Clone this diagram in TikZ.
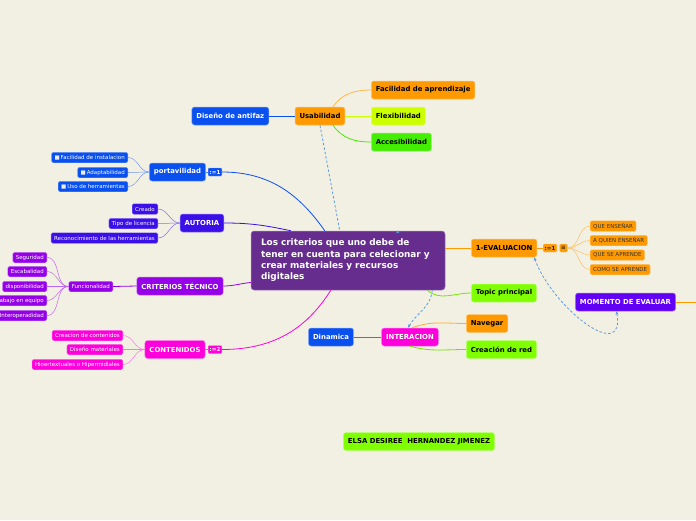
\documentclass[tikz,border=0pt]{standalone}
\usepackage{fontspec}
\setmainfont{DejaVu Sans}
\usetikzlibrary{calc,arrows.meta}
\definecolor{bg}{HTML}{F2EFE3}
\definecolor{cOr}{HTML}{FF9900}
\definecolor{cBl}{HTML}{0A50EE}
\definecolor{cAu}{HTML}{3A0FE8}
\definecolor{cCr}{HTML}{9600E8}
\definecolor{cMa}{HTML}{FF00DC}
\definecolor{cMo}{HTML}{6200F5}
\definecolor{cCe}{HTML}{662D8F}
\definecolor{cAc}{HTML}{44EE00}
\definecolor{cTo}{HTML}{80FF00}
\definecolor{cFl}{HTML}{CCFF00}
\definecolor{cDash}{HTML}{5A9BE0}
\tikzset{
  mbox/.style={rounded corners=2.5pt, fill=#1, draw=#1!55!white, line width=0.5pt,
    inner xsep=4.5pt, inner ysep=0pt, minimum height=18pt,
    font=\bfseries\fontsize{6.9}{8}\selectfont},
  cbox/.style={rounded corners=1.5pt, fill=#1, draw=#1!55!white, line width=0.4pt,
    inner xsep=3pt, inner ysep=0pt, minimum height=10.5pt,
    font=\fontsize{5.5}{6.5}\selectfont},
  badge/.style={rounded corners=1pt, fill=#1, draw=#1!55!white, line width=0.4pt,
    inner xsep=1.5pt, inner ysep=0pt, minimum height=8pt,
    font=\bfseries\fontsize{5.5}{6}\selectfont, text=white},
  wt/.style={text=white},
  bk/.style={text=black},
  link/.style={line width=0.8pt},
  sub/.style={line width=0.5pt},
  dlink/.style={draw=cDash, line width=0.8pt, dash pattern=on 2.5pt off 2pt},
}
\newcommand{\chk}{\textcolor{white!85!gray}{■}\,}
\begin{document}
\begin{tikzpicture}[x=1pt,y=1pt]
\useasboundingbox (0,0) rectangle (696,-520);
\clip (0,0) rectangle (696,-520);
\fill[bg] (0,0) rectangle (696,-520);

% central
\node[rounded corners=3pt, fill=cCe, draw=cCe!60!white, line width=0.5pt,
  minimum width=194pt, minimum height=59pt, text width=174pt, align=left,
  inner xsep=0pt, inner ysep=0pt, text=white,
  font=\bfseries\fontsize{8.9}{11.3}\selectfont] (c) at (348,-260.5)
  {\rule{0pt}{3pt}Los criterios que uno debe de\\tener en cuenta para celecionar y\\crear materiales y recursos\\digitales};

% top branch
\node[mbox=cBl, wt, anchor=east] (dis) at (269,-116) {Diseño de antifaz};
\node[mbox=cOr, bk] (us) at (320,-116) {Usabilidad};
\node[mbox=cOr, bk, anchor=west] (fa) at (371,-90) {Facilidad de aprendizaje};
\node[mbox=cFl, bk, anchor=west] (fl) at (371,-116) {Flexibilidad};
\node[mbox=cAc, bk, anchor=west] (ac) at (371,-142) {Accesibilidad};

% portavilidad
\node[mbox=cBl, wt] (pv) at (177.5,-172) {portavilidad};
\node[badge=cBl, anchor=west] (pvb) at (208,-172) {:=1};
\node[cbox=cBl, wt, anchor=east] (pv1) at (128,-157.5) {\chk Facilidad de instalacion};
\node[cbox=cBl, wt, anchor=east] (pv2) at (128,-172.5) {\chk Adaptabilidad};
\node[cbox=cBl, wt, anchor=east] (pv3) at (128,-186.5) {\chk Uso de herramientas};

% autoria
\node[mbox=cAu, wt] (au) at (202,-223) {AUTORIA};
\node[cbox=cAu, wt, anchor=east] (au1) at (158,-209) {Creado};
\node[cbox=cAu, wt, anchor=east] (au2) at (158,-223.5) {Tipo de licencia};
\node[cbox=cAu, wt, anchor=east] (au3) at (158,-238) {Reconocimiento de las herramientas};

% criterios
\node[mbox=cCr, wt] (cr) at (180,-286) {CRITERIOS TÉCNICO};
\node[cbox=cCr, wt, anchor=east] (fu) at (113,-286.5) {Funcionalidad};
\node[cbox=cCr, wt, anchor=east] (f1) at (47,-257.5) {Seguridad};
\node[cbox=cCr, wt, anchor=east] (f2) at (47,-271.5) {Escabalidad};
\node[cbox=cCr, wt, anchor=east] (f3) at (47,-286.5) {disponibilidad};
\node[cbox=cCr, wt, anchor=east] (f4) at (47,-300.5) {Trabajo en equipo};
\node[cbox=cCr, wt, anchor=east] (f5) at (47,-315.5) {Interoperadidad};

% contenidos
\node[mbox=cMa, wt] (co) at (175,-349.5) {CONTENIDOS};
\node[badge=cMa, anchor=west] (cob) at (208,-349.5) {:=2};
\node[cbox=cMa, wt, anchor=east] (co1) at (123,-335.5) {Creacion de contenidos};
\node[cbox=cMa, wt, anchor=east] (co2) at (123,-349.5) {Diseño materiales};
\node[cbox=cMa, wt, anchor=east] (co3) at (123,-364.5) {Hioertextuales o Hipermidiales};

% evaluacion
\node[mbox=cOr, bk, anchor=west] (ev) at (471,-248) {1-EVALUACION};
\node[badge=cOr, text=black!85, anchor=west] (evb1) at (543,-248) {:=1};
\node[badge=cOr, text=black!85, anchor=west] (evb2) at (559.5,-248) {≡};
\node[cbox=cOr, text=black!80, anchor=west] (e1) at (590,-226) {QUE ENSEÑAR};
\node[cbox=cOr, text=black!80, anchor=west] (e2) at (590,-240.5) {A QUIEN ENSEÑAR};
\node[cbox=cOr, text=black!80, anchor=west] (e3) at (590,-255) {QUE SE APRENDE};
\node[cbox=cOr, text=black!80, anchor=west] (e4) at (590,-269.5) {COMO SE APRENDE};
\node[mbox=cTo, bk, anchor=west] (tp) at (471,-293) {Topic principal};
\node[mbox=cMo, wt] (mo) at (625.5,-302) {MOMENTO DE EVALUAR};
\coordinate (moR) at (700,-302);

% interacion
\node[mbox=cBl, wt] (di) at (331,-337) {Dinamica};
\node[mbox=cMa, wt] (in) at (410,-337) {INTERACION};
\node[mbox=cOr, bk, anchor=west] (na) at (466,-323.5) {Navegar};
\node[mbox=cTo, bk, anchor=west] (cd) at (466,-349.5) {Creación de red};

\node[mbox=cTo, bk] (el) at (419,-441.5) {ELSA DESIREE\ \ HERNANDEZ JIMENEZ};

% connectors: central
\draw[link, cBl] (pvb.east) to[out=0, in=125] ($(c.north west)+(74,0)$);
\draw[link, cAu] (au.east) to[out=0, in=168] ($(c.north west)+(40,0)$);
\draw[link, cCr] (cr.east) to[out=0, in=185] ($(c.west)+(0,-22)$);
\draw[link, cMa] (cob.east) to[out=0, in=-122] ($(c.south west)+(80,0)$);
\draw[link, cOr] ($(c.east)+(0,12.5)$) -- (ev.west);
\draw[link, cTo!85!black!60!cTo] ($(c.south east)+(-18,0)$) to[out=-40, in=180] (tp.west);

% top branch connectors
\draw[link, cBl] (dis.east) -- (us.west);
\draw[link, cOr!70!white] ($(us.north)+(13,0)$) to[out=55, in=180] (fa.west);
\draw[link, cFl] (us.east) -- (fl.west);
\draw[link, cAc] ($(us.south)+(13,0)$) to[out=-55, in=180] (ac.west);

% children
\foreach \n in {pv1,pv2,pv3} \draw[sub, cBl!60!white] (pv.west) to[out=180, in=0] (\n.east);
\draw[sub, cBl!70!white] (pv.east) -- (pvb.west);
\foreach \n in {au1,au2,au3} \draw[sub, cAu!60!white] (au.west) to[out=180, in=0] (\n.east);
\draw[link, cCr] (fu.east) -- (cr.west);
\foreach \n in {f1,f2,f3,f4,f5} \draw[sub, cCr!60!white] (fu.west) to[out=180, in=0] (\n.east);
\foreach \n in {co1,co2,co3} \draw[sub, cMa!55!white] (co.west) to[out=180, in=0] (\n.east);
\draw[sub, cMa!70!white] (co.east) -- (cob.west);
\draw[sub, cOr] (ev.east) -- (evb1.west);
\foreach \n in {e1,e2,e3,e4} \draw[sub, cOr!60!white] (evb2.east) to[out=0, in=180] (\n.west);
\draw[link, cOr] (mo.east) -- (moR);

% interacion connectors
\draw[link, cBl!80!white] (di.east) -- (in.west);
\draw[link, cOr!80!white] ($(in.north)+(2,0)$) to[out=20, in=180] (na.west);
\draw[link, cTo!90!black] ($(in.south)+(0,0)$) to[out=-15, in=180] (cd.west);

% dashed relations
\draw[dlink] (us.south) -- ($(c.north west)+(89,0)$);
\draw[dlink, -{Stealth[length=3.5pt,width=3pt]}] ($(c.south east)+(-13,0)$) to[out=-95, in=60] ($(in.north)+(-2,0)$);
\draw[dlink, {Stealth[length=3.5pt,width=3pt]}-{Stealth[length=3.5pt,width=3pt]}] ($(ev.south)+(30,0)$) to[out=-70, in=-80, looseness=1.4] ($(mo.south)+(-9,0)$);
\draw[cDash, line width=0.6pt, -{Stealth[length=3pt,width=3pt]}] ($(c.north west)+(147,-2)$) -- ($(c.north west)+(147,0.5)$);
\end{tikzpicture}
\end{document}
